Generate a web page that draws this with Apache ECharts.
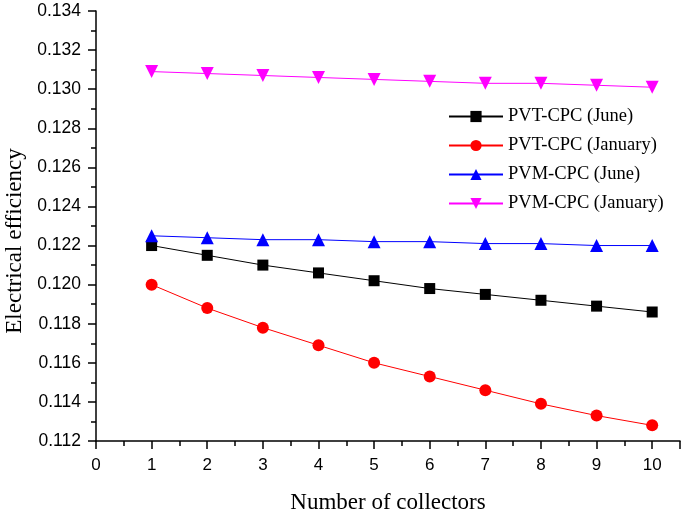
<!DOCTYPE html>
<html><head><meta charset="utf-8">
<script src="https://cdn.jsdelivr.net/npm/echarts@6/dist/echarts.min.js"></script>
<style>html,body{margin:0;padding:0;background:#fff}#c{width:685px;height:511px}</style>
</head><body><div id="c"></div>
<script>
const collectors = [1,2,3,4,5,6,7,8,9,10];
const pvtJune = [0.1220,0.1215,0.1210,0.1206,0.1202,0.1198,0.1195,0.1192,0.1189,0.1186];
const pvtJanuary = [0.1200,0.1188,0.1178,0.1169,0.1160,0.1153,0.1146,0.1139,0.1133,0.1128];
const pvmJune = [0.1225,0.1224,0.1223,0.1223,0.1222,0.1222,0.1221,0.1221,0.1220,0.1220];
const pvmJanuary = [0.1309,0.1308,0.1307,0.1306,0.1305,0.1304,0.1303,0.1303,0.1302,0.1301];
const seriesNames = ['PVT-CPC (June)','PVT-CPC (January)','PVM-CPC (June)','PVM-CPC (January)'];
const xTicks = [0,1,2,3,4,5,6,7,8,9,10];

const chart = echarts.init(document.getElementById('c'), null, {renderer:'canvas'});
const mk = (name, vals, color, sym, size, rot) => ({
  name, type:'line', data: collectors.map((x,i)=>[x, vals[i]]),
  symbol: sym, symbolSize: size, symbolRotate: rot||0,
  lineStyle:{color, width:1}, itemStyle:{color},
  emphasis:{disabled:true}
});
chart.setOption({
  animation:false,
  grid:{left:96, top:11, right:5, bottom:70, containLabel:false, outerBoundsMode:'none'},
  legend:{
    orient:'vertical', left:443, top:102, itemWidth:54, itemHeight:14, itemGap:10,
    textStyle:{fontFamily:'Liberation Serif', fontSize:18.5, color:'#000'},
    data: seriesNames
  },
  xAxis:{
    type:'value', min:0, max:10.5, interval:1,
    name:'Number of collectors', nameLocation:'middle', nameGap:50,
    nameTextStyle:{fontFamily:'Liberation Serif', fontSize:23, color:'#000'},
    axisLine:{lineStyle:{color:'#000', width:1.5}},
    axisTick:{length:8, lineStyle:{color:'#000', width:1.5}},
    minorTick:{show:true, splitNumber:2, length:5, lineStyle:{color:'#000', width:1.5}},
    splitLine:{show:false},
    axisLabel:{fontFamily:'Liberation Sans', fontSize:17, color:'#000', margin:16,
      formatter: v => xTicks.includes(v) ? String(v) : ''}
  },
  yAxis:{
    type:'value', min:0.112, max:0.134, interval:0.002,
    name:'Electrical efficiency', nameLocation:'middle', nameGap:70,
    nameTextStyle:{fontFamily:'Liberation Serif', fontSize:23, color:'#000', padding:[0,30,0,0]},
    axisLine:{show:true, lineStyle:{color:'#000', width:1.5}},
    axisTick:{show:true, length:8, lineStyle:{color:'#000', width:1.5}},
    minorTick:{show:true, splitNumber:2, length:5, lineStyle:{color:'#000', width:1.5}},
    splitLine:{show:false},
    axisLabel:{fontFamily:'Liberation Sans', fontSize:17.5, color:'#000', margin:15,
      formatter: v => v.toFixed(3)}
  },
  series:[
    mk(seriesNames[0], pvtJune, '#000000', 'rect', 11),
    mk(seriesNames[1], pvtJanuary, '#ff0000', 'circle', 12),
    mk(seriesNames[2], pvmJune, '#0000ff', 'triangle', 13),
    mk(seriesNames[3], pvmJanuary, '#ff00ff', 'triangle', 13, 180)
  ]
});
</script></body></html>
